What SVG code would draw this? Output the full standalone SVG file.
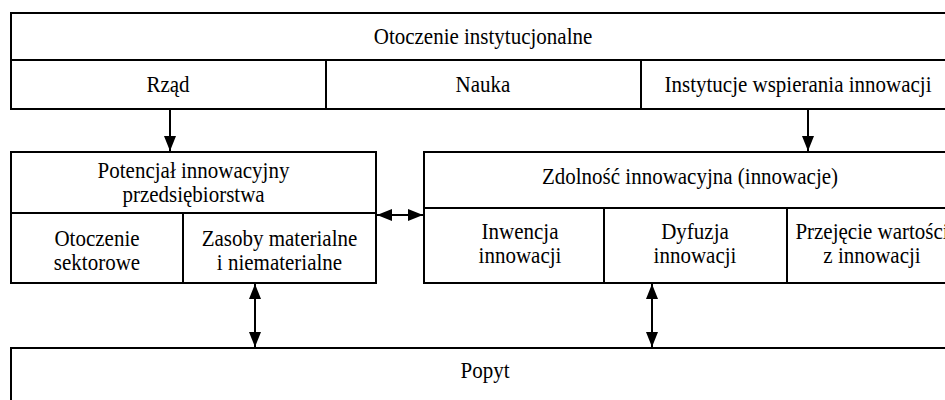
<svg xmlns="http://www.w3.org/2000/svg" width="945" height="400" viewBox="0 0 945 400">
<style>
.box{fill:#fff;stroke:#000;stroke-width:2}
.ln{stroke:#000;stroke-width:2;fill:none}
.t{font-family:"Liberation Serif","Times New Roman",serif;font-size:21px;fill:#000;text-anchor:middle}
.c{stroke:#000;stroke-width:2;fill:none;marker-end:url(#ah)}
.d{stroke:#000;stroke-width:2;fill:none;marker-start:url(#ah);marker-end:url(#ah)}
</style>
<defs>
<marker id="ah" markerUnits="userSpaceOnUse" markerWidth="15" markerHeight="12" refX="15" refY="6" orient="auto-start-reverse">
<path d="M0,0 L15,6 L0,12 z" fill="#000"/>
</marker>
</defs>
<rect width="945" height="400" fill="#fff"/>
<g id="otoczenie-instytucjonalne">
<rect class="box" x="11" y="13" width="944" height="96"/>
<line class="ln" x1="11" y1="60" x2="955" y2="60"/>
<line class="ln" x1="326" y1="60" x2="326" y2="109"/>
<line class="ln" x1="641" y1="60" x2="641" y2="109"/>
<text class="t" transform="translate(483 44) scale(1 1.1)">Otoczenie instytucjonalne</text>
<text class="t" transform="translate(168 92) scale(1 1.1)">Rząd</text>
<text class="t" transform="translate(483 92) scale(1 1.1)">Nauka</text>
<text class="t" transform="translate(798 92) scale(1 1.1)">Instytucje wspierania innowacji</text>
</g>
<g id="potencjal">
<rect class="box" x="11" y="152" width="365" height="131"/>
<line class="ln" x1="11" y1="213" x2="376" y2="213"/>
<line class="ln" x1="183" y1="213" x2="183" y2="283"/>
<text class="t" transform="translate(193.5 178) scale(1 1.1)">Potencjał innowacyjny</text>
<text class="t" transform="translate(193.5 202) scale(1 1.1)">przedsiębiorstwa</text>
<text class="t" transform="translate(97 246) scale(1 1.1)">Otoczenie</text>
<text class="t" transform="translate(97 270) scale(1 1.1)">sektorowe</text>
<text class="t" transform="translate(279.5 246) scale(1 1.1)">Zasoby materialne</text>
<text class="t" transform="translate(279.5 270) scale(1 1.1)">i niematerialne</text>
</g>
<g id="zdolnosc">
<rect class="box" x="424" y="152" width="532" height="131"/>
<line class="ln" x1="424" y1="208" x2="956" y2="208"/>
<line class="ln" x1="604" y1="208" x2="604" y2="283"/>
<line class="ln" x1="787" y1="208" x2="787" y2="283"/>
<text class="t" transform="translate(690 184) scale(1 1.1)">Zdolność innowacyjna (innowacje)</text>
<text class="t" transform="translate(520 239) scale(1 1.1)">Inwencja</text>
<text class="t" transform="translate(520 263) scale(1 1.1)">innowacji</text>
<text class="t" transform="translate(695 239) scale(1 1.1)">Dyfuzja</text>
<text class="t" transform="translate(695 263) scale(1 1.1)">innowacji</text>
<text class="t" transform="translate(872 239) scale(1 1.1)">Przejęcie wartości</text>
<text class="t" transform="translate(872 263) scale(1 1.1)">z innowacji</text>
</g>
<g id="popyt">
<rect class="box" x="11" y="348" width="944" height="70"/>
<text class="t" transform="translate(485 378) scale(1 1.1)">Popyt</text>
</g>
<g id="connectors">
<line class="c" x1="170" y1="109" x2="170" y2="151"/>
<line class="c" x1="808" y1="109" x2="808" y2="151"/>
<line class="d" x1="377" y1="215" x2="423" y2="215"/>
<line class="d" x1="255" y1="284" x2="255" y2="347"/>
<line class="d" x1="652" y1="284" x2="652" y2="347"/>
</g>
</svg>
